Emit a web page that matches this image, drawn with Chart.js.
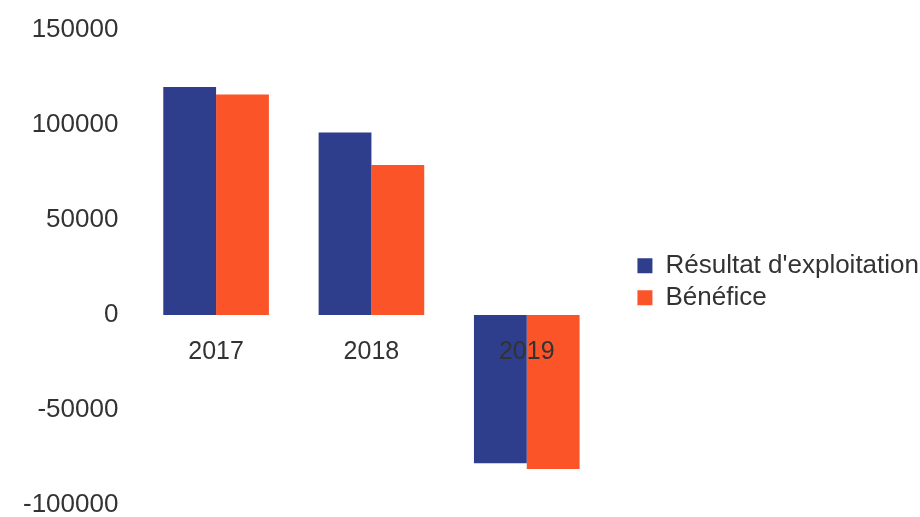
<!DOCTYPE html>
<html>
<head>
<meta charset="utf-8">
<script src="https://cdn.jsdelivr.net/npm/chart.js@4"></script>
<style>
  html, body { margin: 0; padding: 0; background: #fff; }
  #wrap { width: 920px; height: 517px; }
</style>
</head>
<body>
<div id="wrap"><canvas id="chart"></canvas></div>
<script>
// Résultats par année
const years = ['2017', '2018', '2019'];
const resultatExploitation = [120000, 96000, -78000];
const benefice = [116000, 79000, -81000];
const yTicks = [150000, 100000, 50000, 0, -50000, -100000];

const FONT = '"Liberation Sans", Arial, sans-serif';

new Chart(document.getElementById('chart'), {
  type: 'bar',
  data: {
    labels: years,
    datasets: [
      { label: "Résultat d'exploitation", data: resultatExploitation, backgroundColor: '#2e3d8c' },
      { label: 'Bénéfice', data: benefice, backgroundColor: '#fb5428' }
    ]
  },
  options: {
    responsive: true, maintainAspectRatio: false, animation: false,
    layout: { padding: { left: 3, top: 30, bottom: 12, right: -9 } },
    datasets: { bar: { categoryPercentage: 0.68, barPercentage: 1 } },
    plugins: {
      tooltip: { enabled: false },
      legend: {
        position: 'right',
        maxWidth: 330,
        title: { display: true, text: ' ', padding: 7, font: { size: 12 } },
        labels: { boxWidth: 15, boxHeight: 15, padding: 6, color: '#333', font: { family: FONT, size: 26 } }
      }
    },
    scales: {
      x: {
        position: { y: 0 },
        afterFit: axis => { axis.height = 0; },
        grid: { display: false, drawTicks: false }, border: { display: false },
        ticks: { z: 1, padding: 22, color: '#333', font: { family: FONT, size: 25 } }
      },
      y: {
        min: Math.min(...yTicks), max: Math.max(...yTicks),
        grid: { display: false, drawTicks: false }, border: { display: false },
        afterBuildTicks: axis => { axis.ticks = yTicks.map(v => ({ value: v })); },
        afterFit: axis => { axis.paddingTop = 0; axis.paddingBottom = 0; },
        ticks: { padding: 20, color: '#333', font: { family: FONT, size: 26 }, callback: v => String(v) }
      },
      // espace vide entre la zone du graphique et la légende
      gap: {
        type: 'linear', position: 'right', display: true,
        grid: { display: false, drawTicks: false }, border: { display: false },
        ticks: { display: false },
        afterFit: axis => { axis.width = 27; }
      }
    }
  }
});
</script>
</body>
</html>
